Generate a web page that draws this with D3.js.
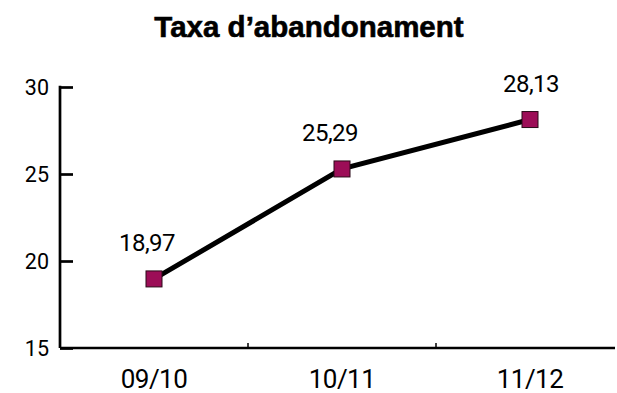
<!DOCTYPE html>
<html>
<head>
<meta charset="utf-8">
<script src="https://cdn.jsdelivr.net/npm/d3@7"></script>
<style>
  html, body { margin: 0; padding: 0; background: #fff; }
  svg { display: block; }
</style>
</head>
<body>
<script>
// Dropout rate per academic year
const categories = ["09/10", "10/11", "11/12"];
const values = [18.97, 25.29, 28.13];
const valueLabels = ["18,97", "25,29", "28,13"];
const yTicks = [15, 20, 25, 30];

(function () {
  const W = 617, H = 393;
  const mLeft = 60, mTop = 87, mBottom = 348;
  // horizontal nudges for the value labels
  const labelDx = [-7, -12, 1];

  const svg = d3.select("body").append("svg")
    .attr("width", W).attr("height", H);

  svg.append("text")
    .attr("x", 309).attr("y", 37)
    .attr("text-anchor", "middle")
    .attr("font-family", "'Liberation Sans', Arial, sans-serif")
    .attr("font-weight", 700)
    .attr("font-size", 29.5)
    .attr("stroke", "#000")
    .attr("stroke-width", 0.6)
    .attr("fill", "#000")
    .text("Taxa d\u2019abandonament");

  const x = d3.scaleBand().domain(categories).range([mLeft, mLeft + 188 * 3]);
  const y = d3.scaleLinear().domain([15, 30]).range([mBottom, mTop]);

  // y axis: ticks point inward
  const yAxis = svg.append("g")
    .attr("transform", `translate(${mLeft},0)`)
    .call(d3.axisRight(y).tickValues(yTicks).tickSize(13).tickFormat(""));
  yAxis.select(".domain").remove();
  yAxis.selectAll(".tick line").attr("stroke", "#000").attr("stroke-width", 2.7);
  svg.append("line")
    .attr("x1", mLeft).attr("x2", mLeft)
    .attr("y1", y(30) - 1.3).attr("y2", mBottom)
    .attr("stroke", "#000").attr("stroke-width", 2.7);

  svg.append("g").selectAll("text").data(yTicks).join("text")
    .attr("x", 49).attr("y", d => y(d))
    .attr("dy", "0.36em")
    .attr("text-anchor", "end")
    .attr("font-family", "Roboto, sans-serif")
    .attr("font-size", 21.5)
    .attr("fill", "#000")
    .text(d => d);

  // x axis with category boundary ticks
  svg.append("line")
    .attr("x1", mLeft).attr("x2", 615)
    .attr("y1", mBottom).attr("y2", mBottom)
    .attr("stroke", "#000").attr("stroke-width", 2.7);
  svg.append("g").selectAll("line").data(categories.slice(1)).join("line")
    .attr("x1", d => x(d)).attr("x2", d => x(d))
    .attr("y1", mBottom).attr("y2", mBottom - 5)
    .attr("stroke", "#000").attr("stroke-width", 1.5);

  svg.append("g").selectAll("text").data(categories).join("text")
    .attr("x", d => x(d) + x.bandwidth() / 2)
    .attr("y", 388)
    .attr("text-anchor", "middle")
    .attr("font-family", "Roboto, sans-serif")
    .attr("font-size", 26)
    .attr("letter-spacing", -0.5)
    .attr("fill", "#000")
    .text(d => d);

  const pts = categories.map((c, i) => ({ c, v: values[i], label: valueLabels[i], dx: labelDx[i] }));
  const cx = d => x(d.c) + x.bandwidth() / 2;

  svg.append("path")
    .datum(pts)
    .attr("fill", "none")
    .attr("stroke", "#000")
    .attr("stroke-width", 5)
    .attr("d", d3.line().x(cx).y(d => y(d.v)));

  const s = 16;
  svg.append("g").selectAll("rect").data(pts).join("rect")
    .attr("x", d => cx(d) - s / 2)
    .attr("y", d => y(d.v) - s / 2)
    .attr("width", s).attr("height", s)
    .attr("fill", "#9c0d57")
    .attr("stroke", "#2a0a18")
    .attr("stroke-width", 1);

  svg.append("g").selectAll("text").data(pts).join("text")
    .attr("x", d => cx(d) + d.dx)
    .attr("y", d => y(d.v) - 28)
    .attr("text-anchor", "middle")
    .attr("font-family", "Roboto, sans-serif")
    .attr("font-size", 24)
    .attr("letter-spacing", -0.5)
    .attr("fill", "#000")
    .text(d => d.label);
})();
</script>
</body>
</html>
